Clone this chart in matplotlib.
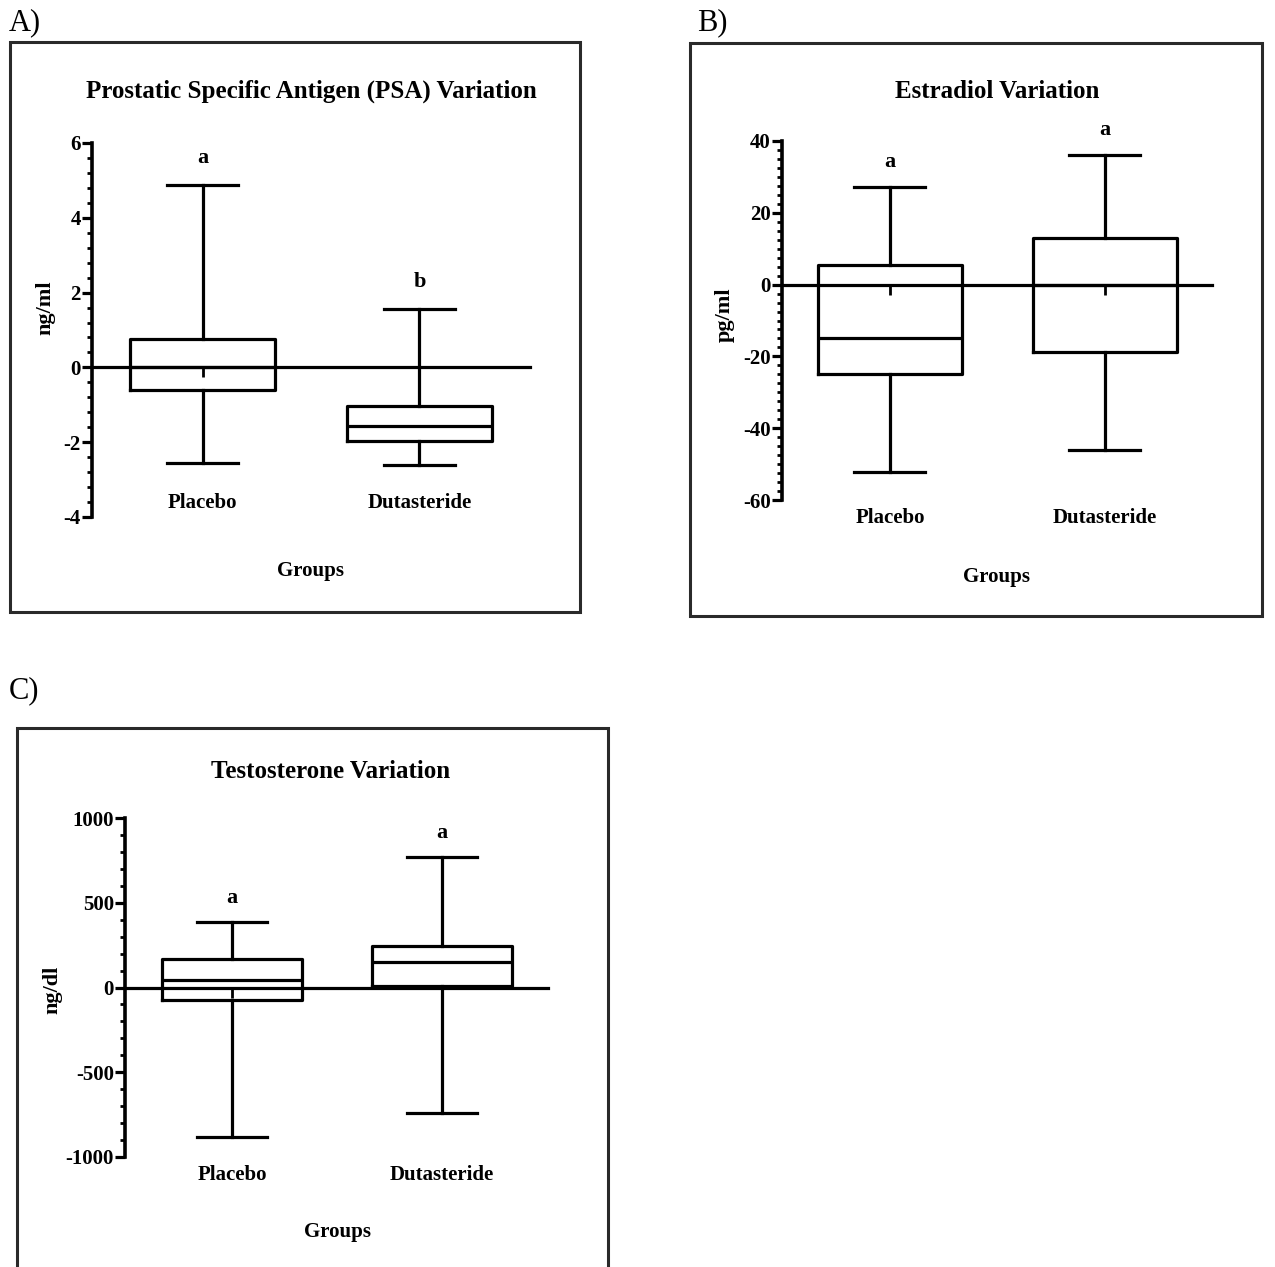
import matplotlib
matplotlib.use("Agg")
import matplotlib.pyplot as plt
from matplotlib.patches import Rectangle
from matplotlib.ticker import AutoMinorLocator

plt.rcParams['font.family'] = ['Liberation Serif', 'DejaVu Serif']

categories = ["Placebo", "Dutasteride"]

# Panel A: PSA (ng/ml)
psa_whislo = [-2.55, -2.62]
psa_q1 = [-0.61, -1.97]
psa_med = [0.0, -1.58]
psa_q3 = [0.75, -1.04]
psa_whishi = [4.87, 1.57]
psa_letters = ["a", "b"]

# Panel B: Estradiol (pg/ml)
est_whislo = [-52.3, -46.2]
est_q1 = [-24.9, -18.8]
est_med = [-14.8, 0.0]
est_q3 = [5.5, 12.9]
est_whishi = [27.1, 36.1]
est_letters = ["a", "a"]

# Panel C: Testosterone (ng/dl)
tes_whislo = [-880, -740]
tes_q1 = [-73, 7]
tes_med = [42, 148]
tes_q3 = [167, 247]
tes_whishi = [385, 770]
tes_letters = ["a", "a"]

W, H = 1275, 1267
fig = plt.figure(figsize=(W / 100, H / 100), dpi=100)


def fx(px):
    return px / W


def fy(py):
    return 1 - py / H


def panel(rect_px, title, title_xy, ylabel, ylabel_xy, groups_xy,
          ylim, yticks, minor_n, xlim, lo, q1, med, q3, hi, letters,
          cat_label_y, letter_off):
    l, t, r, b = rect_px
    ax = fig.add_axes([fx(l), fy(b), fx(r - l), fy(t) - fy(b)])
    stats = []
    for i in range(len(categories)):
        stats.append(dict(whislo=lo[i], q1=q1[i], med=med[i], q3=q3[i],
                          whishi=hi[i], fliers=[], label=categories[i]))
    lw = 2.3
    ax.bxp(stats, positions=[1, 2], widths=0.67, capwidths=0.33,
           showfliers=False, manage_ticks=False,
           boxprops=dict(color='black', linewidth=lw),
           whiskerprops=dict(color='black', linewidth=lw),
           capprops=dict(color='black', linewidth=lw),
           medianprops=dict(color='black', linewidth=lw))
    ax.set_xlim(*xlim)
    ax.set_ylim(*ylim)
    ax.set_yticks(yticks)
    ax.set_yticklabels([("%g" % v) for v in yticks])
    ax.yaxis.set_minor_locator(AutoMinorLocator(minor_n))
    for s in ['top', 'right']:
        ax.spines[s].set_visible(False)
    ax.spines['left'].set_linewidth(2.6)
    ax.spines['bottom'].set_position(('data', 0))
    ax.spines['bottom'].set_linewidth(2.3)
    ax.set_xticks([1, 2])
    ax.set_xticklabels(["", ""])
    ax.tick_params(axis='x', direction='out', length=7, width=2.0)
    ax.tick_params(axis='y', which='major', length=7, width=2.3, pad=1,
                   labelsize=15)
    ax.tick_params(axis='y', which='minor', length=3.5, width=2.0)
    for lab in ax.get_yticklabels():
        lab.set_fontweight('bold')
    ax.patch.set_alpha(0)
    # category labels
    for i, c in enumerate(categories):
        ax.text(i + 1, cat_label_y, c, transform=ax.get_xaxis_transform(),
                ha='center', va='center', fontsize=15, fontweight='bold')
    # significance letters above upper whiskers
    for i, s in enumerate(letters):
        ax.annotate(s, xy=(i + 1, hi[i]), xytext=(0, letter_off),
                    textcoords='offset pixels', ha='center', va='center',
                    fontsize=16, fontweight='bold')
    fig.text(fx(title_xy[0]), fy(title_xy[1]), title, ha='center',
             va='center', fontsize=18, fontweight='bold')
    fig.text(fx(ylabel_xy[0]), fy(ylabel_xy[1]), ylabel, ha='center',
             va='center', rotation=90, fontsize=16, fontweight='bold')
    fig.text(fx(groups_xy[0]), fy(groups_xy[1]), "Groups", ha='center',
             va='center', fontsize=15, fontweight='bold')
    return ax


# Panel A
panel((92, 143, 530, 517), "Prostatic Specific Antigen (PSA) Variation",
      (311, 91), "ng/ml", (45, 308), (311, 571),
      (-4, 6), [-4, -2, 0, 2, 4, 6], 5, (0.49, 2.51),
      psa_whislo, psa_q1, psa_med, psa_q3, psa_whishi, psa_letters,
      0.037, 27)

# Panel B
panel((782, 141, 1212, 500), "Estradiol Variation",
      (997, 91), "pg/ml", (725, 315), (997, 577),
      (-60, 40), [-60, -40, -20, 0, 20, 40], 8, (0.498, 2.498),
      est_whislo, est_q1, est_med, est_q3, est_whishi, est_letters,
      -0.05, 25)

# Panel C
panel((125, 818, 548, 1157), "Testosterone Variation",
      (331, 772), "ng/dl", (52, 990), (337, 1232),
      (-1000, 1000), [-1000, -500, 0, 500, 1000], 5, (0.49, 2.505),
      tes_whislo, tes_q1, tes_med, tes_q3, tes_whishi, tes_letters,
      -0.053, 24)

# panel frames
frames = [(10, 42, 580, 612), (690, 43, 1262, 616), (17, 728, 608, 1280)]
for (l, t, r, b) in frames:
    fig.add_artist(Rectangle((fx(l), fy(b)), fx(r - l), fy(t) - fy(b),
                             transform=fig.transFigure, fill=False,
                             edgecolor='#2a2a2a', linewidth=2.2))

# panel letters
for lab, (x, y) in zip(["A)", "B)", "C)"], [(9, 23), (697, 23), (9, 691)]):
    fig.text(fx(x), fy(y), lab, ha='left', va='center', fontsize=22)

fig.savefig("out.png", dpi=100)
